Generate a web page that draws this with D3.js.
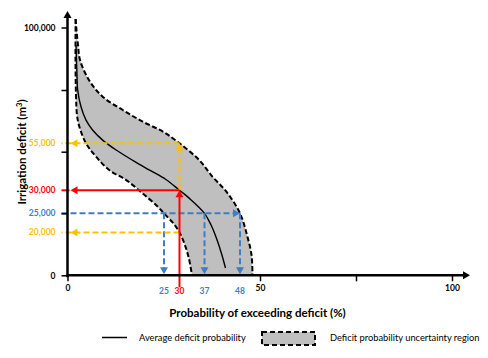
<!DOCTYPE html>
<html><head><meta charset="utf-8">
<script src="https://cdn.jsdelivr.net/npm/d3@7"></script>
<style>
body{margin:0;background:#fff}
svg{display:block;background:#fff}
text{font-family:Lato,"Open Sans",sans-serif}
</style>
</head><body><svg id="c" width="488" height="358"></svg>
<script>
// ---------------- data ----------------
// schematic (non-linear) axis stops as drawn in the original figure
const xStops = [0, 25, 30, 37, 48, 50, 100];
const yStops = [0, 20000, 25000, 30000, 50000, 55000, 75000, 100000];
const xTicks = [0, 50, 75, 100];
const xTickLabels = ["0", "50", "", "100"];
const yTicks = [0, 25000, 50000, 75000, 100000];
const yTickLabels = ["0", "", "", "", "100,000"];

// upper (right) bound of uncertainty region: probability (%), deficit (m3)
const upperProb = [2.1, 2.33, 2.72, 3.24, 5.65, 9.1, 14.3, 19.5, 24.7, 30, 35.5, 39.5, 43.9, 48, 48.7, 49.15, 49.25];
const upperDef  = [103400, 99000, 93000, 87000, 78750, 72500, 67500, 63100, 59400, 55000, 45700, 37000, 29600, 25000, 18800, 9500, 0];
// lower (left) bound
const lowerProb = [2.1, 2.07, 2.2, 2.46, 3.1, 4.8, 7.4, 10.8, 15.2, 19.5, 23.2, 25, 28.2, 30, 31.5, 32.6, 33.5];
const lowerDef  = [103400, 87000, 73100, 65600, 61100, 55000, 47400, 40500, 35300, 29300, 26600, 25000, 22200, 20000, 14200, 8100, 0];
// average deficit probability
const meanProb = [2.2, 2.46, 2.64, 3.5, 4.8, 6.5, 9.1, 12.6, 17.0, 21.4, 25.6, 30, 32.7, 37, 39, 40.9, 42.4, 43.5];
const meanDef  = [93000, 81000, 75000, 68700, 63700, 60000, 56200, 51000, 45400, 40300, 35600, 30000, 28300, 25000, 22000, 16500, 9500, 3400];

// annotated reference levels
const levelValues = [55000, 30000, 25000, 20000];
const levelLabels = ["55,000", "30,000", "25,000", "20,000"];
const levelColors = ["#FFC000", "#FF0000", "#3F7DC6", "#FFC000"];
const markValues = [25, 30, 37, 48];
const markLabels = ["25", "30", "37", "48"];
const markColors = ["#3F7DC6", "#FF0000", "#3F7DC6", "#3F7DC6"];

// ---------------- chart ----------------
const svg = d3.select("#c");
const x = d3.scaleLinear().domain(xStops).range([67.5, 164, 179.5, 204.5, 240, 260, 452]);
const y = d3.scaleLinear().domain(yStops).range([275.3, 232.5, 213.3, 190.3, 151.7, 143.3, 90, 27.5]);

const pts = (px, py) => px.map((p, i) => [x(p), y(py[i])]);
const line = d3.line().curve(d3.curveCatmullRom.alpha(0.5));

const up = pts(upperProb, upperDef);
const lo = pts(lowerProb, lowerDef);
const mn = pts(meanProb, meanDef);

// shaded region
const regionPath = line(up) + line(lo.slice().reverse()).replace(/^M/, "L") + "Z";
svg.append("path").attr("d", regionPath).attr("fill", "#BFBFBF").attr("stroke", "none");
// bounds
[up, lo].forEach(p => svg.append("path").attr("d", line(p)).attr("fill", "none")
  .attr("stroke", "#000").attr("stroke-width", 2).attr("stroke-dasharray", "5,2.5"));
// mean
svg.append("path").attr("d", line(mn)).attr("fill", "none").attr("stroke", "#000").attr("stroke-width", 1.4);

// arrows helper
function arrowHead(g, tx, ty, dir, color) {
  const L = 7, W = 4;
  let p;
  if (dir === "left") p = [[tx, ty], [tx + L, ty - W], [tx + L, ty + W]];
  if (dir === "right") p = [[tx, ty], [tx - L, ty - W], [tx - L, ty + W]];
  if (dir === "up") p = [[tx, ty], [tx - W, ty + L], [tx + W, ty + L]];
  if (dir === "down") p = [[tx, ty], [tx - W, ty - L], [tx + W, ty - L]];
  g.append("path").attr("d", d3.line()(p) + "Z").attr("fill", color);
}
function seg(g, x1, y1, x2, y2, color, dashed) {
  g.append("line").attr("x1", x1).attr("y1", y1).attr("x2", x2).attr("y2", y2)
    .attr("stroke", color).attr("stroke-width", 2)
    .attr("stroke-dasharray", dashed ? "6,3" : null);
}
const ann = svg.append("g");
const x0 = x(0), yb = y(0);
const yel = levelColors[0], red = levelColors[1], blue = levelColors[2];
// blue 25,000 construction
seg(ann, x0 - 6, y(25000), x(48) - 2, y(25000), blue, true);
arrowHead(ann, x(48), y(25000), "right", blue);
[25, 37, 48].forEach(v => {
  seg(ann, x(v), y(25000), x(v), yb - 4, blue, true);
  arrowHead(ann, x(v), yb - 1, "down", blue);
});
// yellow 55,000 construction
seg(ann, x(30), y(55000), x0 - 6, y(55000), yel, true);
arrowHead(ann, x0 + 3, y(55000), "left", yel);
seg(ann, x(30), y(30000), x(30), y(55000) + 3, yel, true);
arrowHead(ann, x(30), y(55000), "up", yel);
// yellow 20,000 construction
seg(ann, x(30), y(20000), x0 - 6, y(20000), yel, true);
arrowHead(ann, x0 + 3, y(20000), "left", yel);
// red 30,000 construction
seg(ann, x(30), yb + 12, x(30), y(30000) + 4, red, false);
arrowHead(ann, x(30), y(30000), "up", red);
seg(ann, x(30), y(30000), x0 + 6, y(30000), red, false);
seg(ann, x0 + 2, y(30000), x0 - 6, y(30000), red, false);
arrowHead(ann, x0 + 3, y(30000), "left", red);

// axes
const ax = svg.append("g");
const yAxis = d3.axisLeft(y).tickValues(yTicks).tickSize(6).tickPadding(6)
  .tickFormat((d, i) => yTickLabels[i]);
const gy = ax.append("g").attr("transform", `translate(${x0},0)`).call(yAxis);
const xAxis = d3.axisBottom(x).tickValues(xTicks).tickSize(6).tickPadding(4)
  .tickFormat((d, i) => xTickLabels[i]);
const gx = ax.append("g").attr("transform", `translate(0,${yb})`).call(xAxis);
[gx, gy].forEach(g => {
  g.select(".domain").remove();
  g.selectAll(".tick line").attr("stroke", "#000").attr("stroke-width", 1.5);
  g.selectAll(".tick text").attr("font-size", 8.5).attr("font-weight", "bold").attr("fill", "#000")
    .style("font-family", "Lato, 'Open Sans', sans-serif");
});
ax.append("line").attr("x1", x0).attr("x2", x0).attr("y1", yb + 2).attr("y2", 18)
  .attr("stroke", "#000").attr("stroke-width", 2.5);
arrowHead(ax, x0, 11, "up", "#000");
ax.append("line").attr("x1", x0 - 1).attr("x2", 463).attr("y1", yb).attr("y2", yb)
  .attr("stroke", "#000").attr("stroke-width", 2.5);
arrowHead(ax, 470, yb, "right", "#000");

// coloured level labels
levelValues.forEach((v, i) => {
  svg.append("text").attr("x", x0 - 12).attr("y", y(v)).attr("dy", "0.34em")
    .attr("text-anchor", "end").attr("font-size", 8.5).attr("font-weight", "bold")
    .attr("fill", levelColors[i]).text(levelLabels[i]);
});
markValues.forEach((v, i) => {
  svg.append("text").attr("x", x(v)).attr("y", yb + 18.5)
    .attr("text-anchor", "middle").attr("font-size", 8.5).attr("font-weight", "bold")
    .attr("fill", markColors[i]).text(markLabels[i]);
});

// axis titles
const yt = svg.append("text").attr("transform", "translate(26,152) rotate(-90)")
  .attr("text-anchor", "middle").attr("font-size", 11.5).attr("font-weight", "bold").attr("fill", "#000");
yt.append("tspan").text("Irrigation deficit (m");
yt.append("tspan").attr("baseline-shift", "super").attr("font-size", 7.5).text("3");
yt.append("tspan").text(")");
svg.append("text").attr("x", 257.5).attr("y", 317).attr("text-anchor", "middle")
  .attr("font-size", 11.5).attr("font-weight", "bold").attr("fill", "#000")
  .text("Probability of exceeding deficit (%)");

// legend
const lg = svg.append("g");
lg.append("line").attr("x1", 102).attr("x2", 127).attr("y1", 337.5).attr("y2", 337.5)
  .attr("stroke", "#000").attr("stroke-width", 1.5);
lg.append("text").attr("x", 139).attr("y", 341).attr("font-size", 9.3).attr("fill", "#000")
  .text("Average deficit probability");
lg.append("rect").attr("x", 262).attr("y", 332).attr("width", 53).attr("height", 13)
  .attr("fill", "#BFBFBF").attr("stroke", "#000").attr("stroke-width", 2).attr("stroke-dasharray", "5,3");
lg.append("text").attr("x", 330).attr("y", 341).attr("font-size", 9.3).attr("fill", "#000")
  .text("Deficit probability uncertainty region");
</script>
</body></html>
